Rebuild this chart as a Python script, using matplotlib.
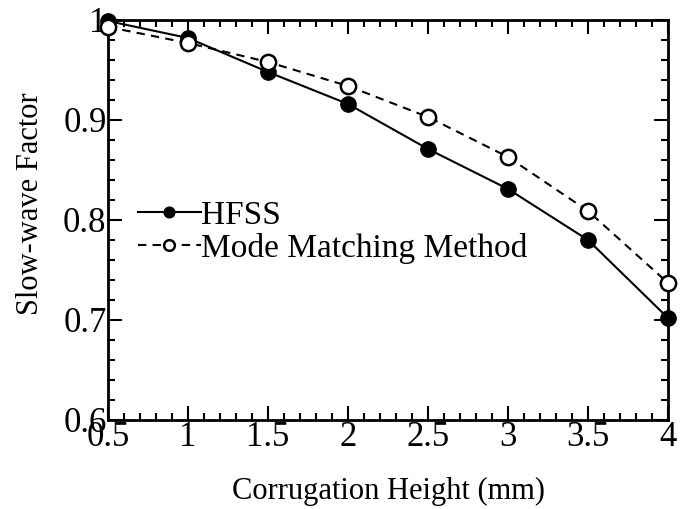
import matplotlib
matplotlib.use("Agg")
import matplotlib.pyplot as plt
from matplotlib.ticker import MultipleLocator

height = [0.5, 1.0, 1.5, 2.0, 2.5, 3.0, 3.5, 4.0]
hfss = [0.999, 0.982, 0.948, 0.916, 0.871, 0.831, 0.780, 0.702]
mmm = [0.993, 0.977, 0.958, 0.934, 0.903, 0.863, 0.809, 0.737]
x_labels = ['0.5', '1', '1.5', '2', '2.5', '3', '3.5', '4']
y_ticks = [0.6, 0.7, 0.8, 0.9, 1.0]
y_labels = ['0.6', '0.7', '0.8', '0.9', '1']

plt.rcParams['font.family'] = ['Liberation Serif', 'DejaVu Serif']

fig = plt.figure(figsize=(6.82, 5.09), dpi=100)
ax = fig.add_axes([108/682, 1-420/509, 560/682, 400/509])

ax.plot(height, hfss, '-', color='black', lw=1.5, marker='o', ms=11,
        mfc='black', mec='black', label='HFSS', clip_on=False, zorder=3)
ax.plot(height, mmm, '--', color='black', lw=1.5, marker='o', ms=11,
        mfc='white', mec='black', mew=1.8, label='Mode Matching Method',
        dashes=(4, 3), clip_on=False, zorder=3)

ax.set_xlim(0.5, 4)
ax.set_ylim(0.6, 1.0)
ax.xaxis.set_minor_locator(MultipleLocator(0.1))
ax.yaxis.set_minor_locator(MultipleLocator(0.02))
ax.set_xticks(height)
ax.set_xticklabels(x_labels)
ax.set_yticks(y_ticks)
ax.set_yticklabels(y_labels)

ax.tick_params(which='both', direction='in', top=True, right=True, width=1.5, labelsize=25, pad=1)
ax.tick_params(which='major', length=10)
ax.tick_params(which='minor', length=5)
for s in ax.spines.values():
    s.set_linewidth(2)

ax.set_xlabel('Corrugation Height (mm)', fontsize=22, labelpad=16)
ax.set_ylabel('Slow-wave Factor', fontsize=22)
ax.yaxis.set_label_coords(-0.113, 0.54)

leg = ax.legend(loc='upper left', bbox_to_anchor=(0.029, 0.582), frameon=False,
                fontsize=24, markerscale=0.7, handlelength=1.9, handletextpad=0.0,
                labelspacing=0.05, borderaxespad=0.0)

fig.savefig('out.png', dpi=100)
